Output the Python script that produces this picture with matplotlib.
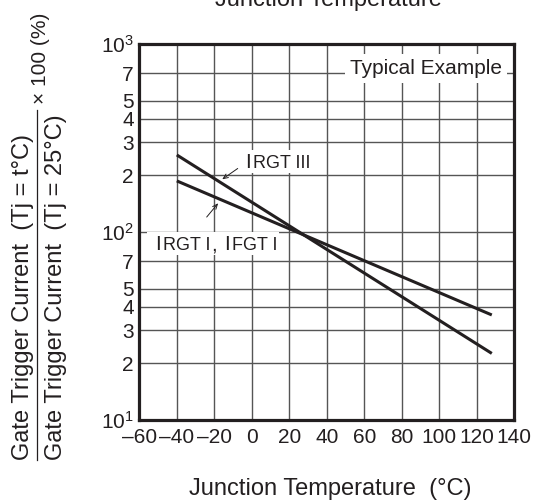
import matplotlib
matplotlib.use("Agg")
import matplotlib.pyplot as plt
from matplotlib.lines import Line2D
from matplotlib.patches import Rectangle
from matplotlib.transforms import offset_copy, IdentityTransform

plt.rcParams['font.family'] = ['Liberation Sans', 'DejaVu Sans']
plt.rcParams['mathtext.fontset'] = 'custom'
plt.rcParams['mathtext.rm'] = 'Liberation Sans'
plt.rcParams['mathtext.it'] = 'Liberation Sans'
plt.rcParams['mathtext.default'] = 'regular'

# ---- data ----
temp = [-40, 128]
irgt3 = [257, 22.6]
irgt1 = [187, 36.2]

x_ticks = [-60, -40, -20, 0, 20, 40, 60, 80, 100, 120, 140]
x_tick_labels = ['–60', '–40', '–20', '0', '20', '40', '60', '80', '100', '120', '140']
y_major = [10, 100, 1000]
y_major_labels = ['$10^1$', '$10^2$', '$10^3$']
y_minor = [20, 30, 40, 50, 70, 200, 300, 400, 500, 700]
y_minor_labels = ['2', '3', '4', '5', '7', '2', '3', '4', '5', '7']

INK = '#231f20'
GRID = '#555555'

W, H = 537, 503
fig = plt.figure(figsize=(W / 100, H / 100), dpi=100)
ax = fig.add_axes([139.3 / W, 1 - 420 / H, (514.3 - 139.3) / W, (420 - 44) / H])

ax.set_xlim(-60, 140)
ax.set_yscale('log')
ax.set_ylim(10, 1000)

ax.set_xticks(x_ticks, labels=x_tick_labels)
ax.set_yticks(y_major, labels=y_major_labels)
ax.set_yticks(y_minor, labels=y_minor_labels, minor=True)
ax.tick_params(axis='both', which='both', length=0, labelsize=15, colors=INK)
ax.tick_params(axis='x', pad=6)
ax.tick_params(axis='y', which='both', pad=4)

ax.set_axisbelow(True)
ax.grid(True, which='both', color=GRID, lw=1.0)
for s in ax.spines.values():
    s.set_linewidth(2.3)
    s.set_color(INK)

ax.plot(temp, irgt3, color=INK, lw=2.2, solid_capstyle='butt', zorder=4)
ax.plot(temp, irgt1, color=INK, lw=2.2, solid_capstyle='butt', zorder=4)

# Typical Example box
ax.text(133.4, 692, 'Typical Example', ha='right', va='baseline', fontsize=15, color=INK,
        bbox=dict(facecolor='white', edgecolor='none', pad=3.5), zorder=5)

# leader lines
ax.annotate('', xy=(-17, 187), xytext=(-6.3, 222),
            arrowprops=dict(arrowstyle='->,head_length=0.35,head_width=0.15', lw=0.7, color=INK))
ax.annotate('', xy=(-17, 146), xytext=(-25, 117),
            arrowprops=dict(arrowstyle='->,head_length=0.35,head_width=0.15', lw=0.7, color=INK))

fig.canvas.draw()
renderer = fig.canvas.get_renderer()


def rich(x, y, parts, padl=4, padr=3, padt=3, padb=5):
    dx = 0.0
    texts = []
    for txt, size, gap in parts:
        dx += gap
        tr = offset_copy(ax.transData, fig=fig, x=dx, y=0, units='dots')
        t = ax.text(x, y, txt, fontsize=size, ha='left', va='baseline', color=INK,
                    transform=tr, zorder=6)
        bb = t.get_window_extent(renderer)
        dx += bb.width
        texts.append(t)
    bbs = [t.get_window_extent(renderer) for t in texts]
    x0 = min(b.x0 for b in bbs) - padl
    x1 = max(b.x1 for b in bbs) + padr
    by = ax.transData.transform((x, y))[1]
    top = max(b.y1 for b in bbs)
    rect = Rectangle((x0, by - padb), x1 - x0, top - by + padb + padt,
                     transform=IdentityTransform(), facecolor='white', edgecolor='none', zorder=5)
    ax.add_patch(rect)


rich(-3.6, 219, [('I', 15, 0), ('RGT III', 13, 2)])
rich(-51.6, 80.2, [('I', 15, 0), ('RGT I', 13, 2), (',', 15, 1), ('I', 15, 7), ('FGT I', 13, 2)],
     padl=8, padr=2)

# axis labels
fig.text(328 / W, 1 - 6 / H, 'Junction Temperature', ha='center', va='baseline', fontsize=17, color=INK)
fig.text(330 / W, 1 - 495 / H, 'Junction Temperature  (°C)', ha='center', va='baseline', fontsize=17, color=INK)

fig.text(23 / W, 1 - 460 / H, 'Gate Trigger Current  (Tj = t°C)', rotation=90, ha='center', va='bottom',
         fontsize=17, color=INK)
fig.text(56 / W, 1 - 460 / H, 'Gate Trigger Current  (Tj = 25°C)', rotation=90, ha='center', va='bottom',
         fontsize=17, color=INK)
fig.add_artist(Line2D([37 / W, 37 / W], [1 - 460 / H, 1 - 110 / H], transform=fig.transFigure,
                      color=INK, lw=0.9))
fig.text(41 / W, 1 - 104 / H, '× 100 (%)', rotation=90, ha='center', va='bottom', fontsize=15, color=INK)

fig.savefig('out.png', dpi=100)
